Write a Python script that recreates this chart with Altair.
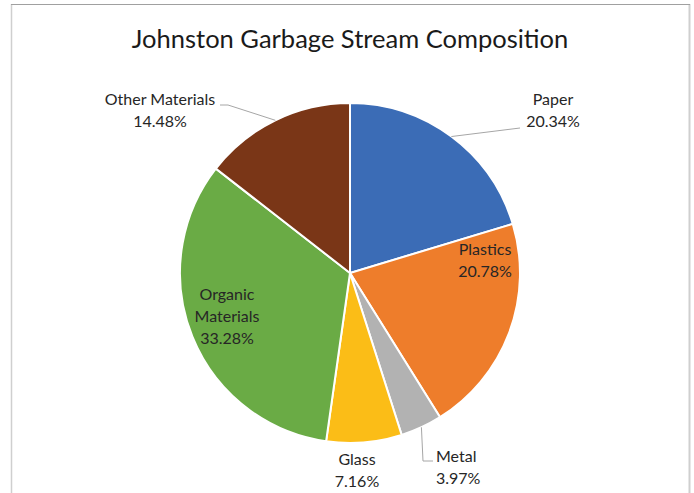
import altair as alt
import numpy as np
import pandas as pd

# ---- data ----
categories = ["Paper", "Plastics", "Metal", "Glass", "Organic Materials", "Other Materials"]
percents = [20.34, 20.78, 3.97, 7.16, 33.28, 14.48]
label_names = ["Paper", "Plastics", "Metal", "Glass", "Organic\nMaterials", "Other Materials"]
title_text = "Johnston Garbage Stream Composition"

# ---- styling / layout ----
colors = ["#3B6CB6", "#EE7D2B", "#B2B2B2", "#FBBD17", "#6AAB45", "#7A3617"]
W, H = 694, 493
CX, CY, R = 350, 273, 170
FONT = "Lato"
TXT = "#262626"

# scales in units of the pie radius, pie centre at (0, 0)
xs = alt.Scale(domain=[-CX / R, (W - CX) / R], range=[0, W], nice=False, zero=False)
ys = alt.Scale(domain=[-(H - CY) / R, CY / R], range=[H, 0], nice=False, zero=False)

def ux(px):
    return (px - CX) / R

def uy(py):
    return (CY - py) / R

# first-line centres of each label block (pixel layout) and alignment
label_layout = {
    "Paper": (553, 100, "center"),
    "Plastics": (485, 250, "center"),
    "Metal": (436, 457, "left"),
    "Glass": (357, 460, "center"),
    "Organic Materials": (227, 295, "center"),
    "Other Materials": (160, 100, "center"),
}
# leader line bends/ends (pixel layout); start is computed from the slice angle
leader_layout = {
    "Paper": [(520, 128)],
    "Other Materials": [(228, 105), (220, 105)],
    "Metal": [(423, 461), (433, 461)],
}

pie = pd.DataFrame({
    "category": categories,
    "percent": percents,
    "idx": list(range(len(categories))),
})

cum = np.cumsum([0] + percents[:-1])
mids = {c: (s + p / 2) / sum(percents) * 2 * np.pi for c, s, p in zip(categories, cum, percents)}

lab_rows = []
for c, n, p in zip(categories, label_names, percents):
    x, y, a = label_layout[c]
    lab_rows.append({"category": c, "text": f"{n}\n{p:.2f}%", "lx": ux(x), "ly": uy(y), "align": a})
labels = pd.DataFrame(lab_rows)

lead_rows = []
for c, pts in leader_layout.items():
    a = mids[c]
    lead_rows.append({"category": c, "seq": 0, "lx": np.sin(a), "ly": np.cos(a)})
    for i, (x, y) in enumerate(pts, start=1):
        lead_rows.append({"category": c, "seq": i, "lx": ux(x), "ly": uy(y)})
leaders = pd.DataFrame(lead_rows)

arcs = alt.Chart(pie).mark_arc(outerRadius=R, stroke="white", strokeWidth=2).encode(
    theta=alt.Theta("percent:Q", stack=True),
    color=alt.Color("category:N", scale=alt.Scale(domain=categories, range=colors), legend=None),
    order=alt.Order("idx:Q"),
    x=alt.value(CX),
    y=alt.value(CY),
)

lines = alt.Chart(leaders).mark_line(color="#A6A6A6", strokeWidth=1).encode(
    x=alt.X("lx:Q", scale=xs, axis=None),
    y=alt.Y("ly:Q", scale=ys, axis=None),
    detail="category:N",
    order="seq:Q",
)

def text_layer(align):
    return alt.Chart(labels[labels["align"] == align]).mark_text(
        font=FONT, fontSize=16, lineBreak="\n", lineHeight=22,
        align=align, baseline="middle", color=TXT,
    ).encode(
        x=alt.X("lx:Q", scale=xs, axis=None),
        y=alt.Y("ly:Q", scale=ys, axis=None),
        text="text:N",
    )

title = alt.Chart(pd.DataFrame({"t": [title_text]})).mark_text(
    font=FONT, fontSize=25.5, color="#1A1A1A", baseline="middle"
).encode(text="t:N", x=alt.value(350), y=alt.value(40))

one = pd.DataFrame({"a": [0]})
frame_left = alt.Chart(one).mark_rule(color="#CFCFCF", strokeWidth=1.5).encode(
    x=alt.value(11.5), y=alt.value(4), y2=alt.value(H))
frame_right = alt.Chart(one).mark_rule(color="#CFCFCF", strokeWidth=2).encode(
    x=alt.value(689.5), y=alt.value(4), y2=alt.value(H))
frame_top = alt.Chart(one).mark_rule(color="#A0A0A0", strokeWidth=1).encode(
    x=alt.value(11), x2=alt.value(690), y=alt.value(4.5))

chart = alt.layer(
    frame_left, frame_right, frame_top, arcs, lines,
    text_layer("center"), text_layer("left"), title,
).properties(
    width=W, height=H, padding=0, autosize="none", background="white",
).configure_view(stroke=None)

chart.save("out.html", embed_options={"renderer": "svg", "actions": False})
